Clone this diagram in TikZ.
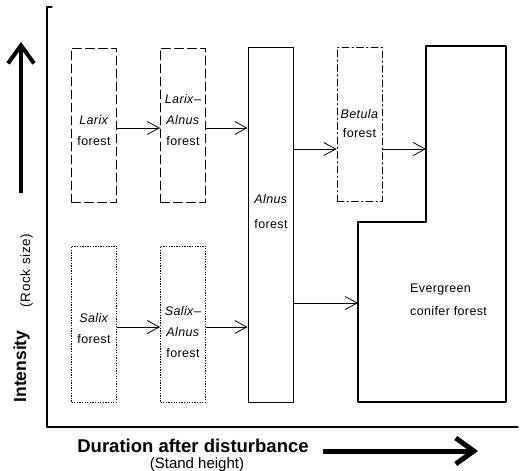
\documentclass[tikz,border=0pt]{standalone}
\usepackage{fontspec}
\setmainfont{Liberation Sans}
\usetikzlibrary{arrows.meta}

\begin{document}
\begin{tikzpicture}[
	x=1pt, y=-1pt,
	line cap=round,
	line join=round,
	box/.style={draw, line width=0.9pt, minimum width=45pt, minimum height=154pt, inner sep=0pt},
	dashbox/.style={box, dash pattern=on 9pt off 4pt},
	dotbox/.style={box, line cap=butt, dash pattern=on 1.3pt off 1.3pt},
	dashdotbox/.style={box, dash pattern=on 7pt off 3pt on 1.5pt off 3pt},
	lbl/.style={font=\fontsize{12.5}{21}\selectfont\addfontfeature{LetterSpace=3}, align=center, anchor=base, inner sep=0pt},
	flow/.style={-{Straight Barb[length=12pt,width=13pt]}, line width=0.8pt},
	bigarrow/.style={-{Straight Barb[length=18pt,width=26pt]}, line width=4pt, line cap=butt}
	]
	\useasboundingbox (0,0) rectangle (522,471);
	
	% Axes
	\draw[line width=1.1pt] (52,7) -- (47,7) -- (47,427) -- (518,427);
	
	% Rows of the arrows
	\coordinate (r1) at (0,128);
	\coordinate (r2) at (0,149);
	\coordinate (r3) at (0,327);
	\coordinate (r4) at (0,303);
	
	% Stands
	\node[dashbox] (larix) at (94,125) {};
	\node[dashbox] (lxal) at (183,125) {};
	\node[box, minimum height=355pt] (alnus) at (270.5,224.5) {};
	\node[dashdotbox] (betula) at (359.5,124.5) {};
	\node[dotbox, minimum height=156pt] (salix) at (94,324) {};
	\node[dotbox, minimum height=156pt] (sxal) at (183,324) {};
	
	% Evergreen block
	\draw[line width=1.1pt] (426,46) -- (506,46) -- (506,402) -- (358,402) -- (358,222) -- (426,222) -- cycle;
	\coordinate (ev1) at (426,149);
	\coordinate (ev2) at (358,303);
	
	% Stand labels (anchored at the last line)
	\node[lbl] (larixtxt) at (94,145) {\textit{Larix}\\forest};
	\node[lbl] (lxaltxt) at (183,145) {\textit{Larix}--\\\textit{Alnus}\\forest};
	\node[lbl] (alnustxt) at (271,228) {\textit{Alnus}\\[4pt]forest};
	\node[lbl] (betulatxt) at (359.5,137) {\textit{Betula}\\[-2pt]forest};
	\node[lbl] (salixtxt) at (94,343) {\textit{Salix}\\forest};
	\node[lbl] (sxaltxt) at (183,357) {\textit{Salix}--\\\textit{Alnus}\\forest};
	\node[lbl, align=left, anchor=base west] (evtxt) at (410,315) {Evergreen\\[2pt]conifer forest};
	
	% Succession
	\draw[flow] (larix.east |- r1) -- (lxal.west |- r1);
	\draw[flow] (lxal.east |- r1) -- (alnus.west |- r1);
	\draw[flow] (alnus.east |- r2) -- (betula.west |- r2);
	\draw[flow] (betula.east |- r2) -- (ev1);
	\draw[flow] (salix.east |- r3) -- (sxal.west |- r3);
	\draw[flow] (sxal.east |- r3) -- (alnus.west |- r3);
	\draw[flow] (alnus.east |- r4) -- (ev2);
	
	% Axis titles
	\node[font=\bfseries\fontsize{17.5}{20}\selectfont, rotate=90, anchor=base] (intensity) at (26,366.5) {Intensity};
	\node[font=\fontsize{13.5}{15}\selectfont\addfontfeature{LetterSpace=5}, rotate=90, anchor=base] (rock) at (30,270.5) {(Rock size)};
	\coordinate (upfoot) at (21,193);
	\coordinate (uptip) at (21,42);
	\draw[bigarrow] (upfoot) -- (uptip);
	
	\node[font=\bfseries\fontsize{18.5}{22}\selectfont, anchor=base] (duration) at (193,452) {Duration after disturbance};
	\node[font=\fontsize{15}{18}\selectfont, anchor=base] (stand) at (197,468) {(Stand height)};
	\coordinate (rightfoot) at (323,451);
	\coordinate (righttip) at (478,451);
	\draw[bigarrow, line width=5pt] (rightfoot) -- (righttip);
\end{tikzpicture}
\end{document}
